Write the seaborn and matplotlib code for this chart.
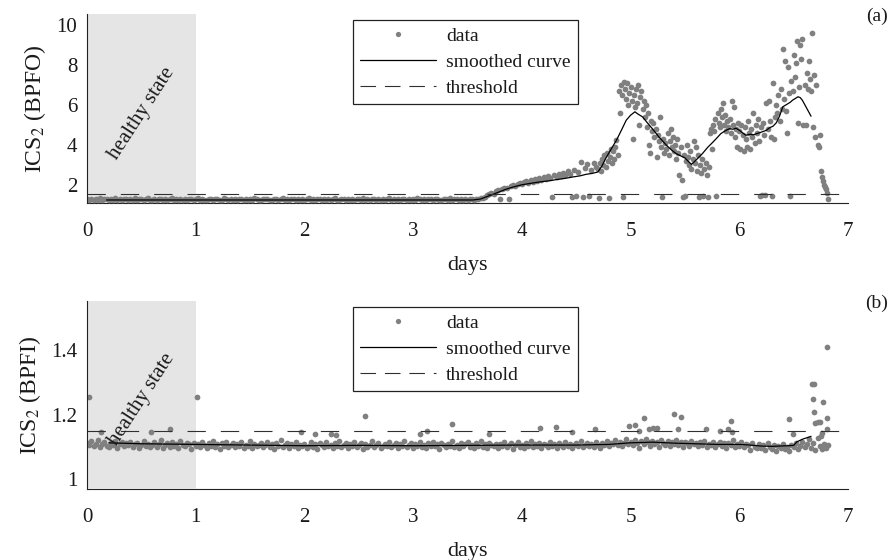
import numpy as np
import pandas as pd
import matplotlib
matplotlib.use("Agg")
import matplotlib.pyplot as plt
import seaborn as sns
from matplotlib.lines import Line2D

# ---------------------------------------------------------------- data
# Panel (a): ICS2 of the BPFO band
# 0.00 .. 3.58 days, sampled every 0.02 day
bpfo_flat = [
    1.31, 1.28, 1.34, 1.26, 1.33, 1.29, 1.36, 1.27, 1.32, 1.30,
    1.25, 1.33, 1.29, 1.35, 1.28, 1.31, 1.27, 1.34, 1.30, 1.26,
    1.32, 1.29, 1.35, 1.28, 1.31, 1.33, 1.27, 1.30, 1.36, 1.29,
    1.26, 1.32, 1.28, 1.34, 1.30, 1.27, 1.33, 1.29, 1.31, 1.35,
    1.28, 1.30, 1.26, 1.33, 1.29, 1.32, 1.27, 1.34, 1.31, 1.28,
    1.30, 1.35, 1.27, 1.32, 1.29, 1.26, 1.33, 1.30, 1.28, 1.34,
    1.31, 1.27, 1.29, 1.36, 1.30, 1.28, 1.32, 1.26, 1.33, 1.29,
    1.31, 1.34, 1.28, 1.30, 1.27, 1.33, 1.29, 1.35, 1.31, 1.28,
    1.26, 1.32, 1.30, 1.34, 1.29, 1.27, 1.31, 1.33, 1.28, 1.30,
    1.35, 1.29, 1.32, 1.27, 1.30, 1.34, 1.28, 1.31, 1.26, 1.33,
    1.29, 1.30, 1.36, 1.28, 1.32, 1.27, 1.31, 1.34, 1.29, 1.30,
    1.27, 1.33, 1.28, 1.31, 1.35, 1.29, 1.26, 1.32, 1.30, 1.28,
    1.34, 1.29, 1.31, 1.27, 1.33, 1.30, 1.28, 1.35, 1.29, 1.32,
    1.26, 1.30, 1.34, 1.28, 1.31, 1.29, 1.33, 1.27, 1.30, 1.36,
    1.29, 1.32, 1.28, 1.31, 1.27, 1.34, 1.30, 1.29, 1.33, 1.26,
    1.31, 1.28, 1.35, 1.30, 1.29, 1.32, 1.27, 1.33, 1.30, 1.28,
    1.31, 1.34, 1.29, 1.27, 1.32, 1.30, 1.28, 1.35, 1.29, 1.31,
    1.33, 1.28, 1.30, 1.26, 1.32, 1.29, 1.34, 1.31, 1.28, 1.30,
]
# 3.60 .. 4.68 days, every 0.02 day
bpfo_rise = [
    1.32, 1.35, 1.38, 1.42, 1.50, 1.55, 1.62, 1.58, 1.70, 1.75,
    1.30, 1.82, 1.88, 1.85, 1.30, 1.95, 2.02, 1.98, 2.08, 2.12,
    2.05, 2.15, 2.20, 2.12, 2.25, 2.18, 2.30, 2.22, 2.35, 2.28,
    2.40, 2.33, 2.45, 2.38, 1.40, 2.50, 2.42, 2.55, 2.48, 2.62,
    2.52, 2.70, 2.58, 1.40, 2.75, 1.45, 2.65, 3.15, 1.40, 2.85,
    3.05, 1.45, 2.75, 3.10, 2.90,
]
# 4.70 .. 6.82 days, every 0.01 day
bpfo_fault = [
    2.80, 1.35, 3.10, 2.70, 3.30, 3.00, 3.50, 2.90, 3.60, 3.20,
    1.35, 3.40, 3.80, 3.10, 3.70, 3.30, 3.90, 4.25, 3.50, 6.70,
    5.60, 7.00, 6.50, 1.40, 7.15, 6.80, 6.30, 7.10, 6.00, 6.60,
    6.90, 6.20, 4.30, 6.50, 5.90, 6.80, 6.10, 7.00, 5.00, 6.40,
    6.70, 5.80, 6.20, 5.40, 6.00, 4.90, 5.60, 4.00, 3.60, 5.20,
    4.70, 5.10, 4.40, 4.80, 3.40, 4.50, 4.20, 5.40, 3.90, 1.40,
    4.30, 3.60, 4.10, 3.80, 4.60, 3.50, 4.20, 4.80, 3.90, 4.40,
    3.70, 4.00, 3.30, 4.30, 3.60, 2.50, 3.90, 2.25, 1.40, 3.50,
    1.45, 3.20, 4.00, 3.40, 3.00, 3.70, 2.80, 3.30, 4.20, 3.10,
    3.90, 2.70, 3.50, 1.40, 3.00, 2.60, 3.30, 1.45, 2.80, 3.10,
    2.50, 1.40, 2.90, 4.60, 4.80, 3.80, 5.00, 4.70, 5.30, 1.45,
    5.60, 5.10, 4.90, 5.80, 5.40, 6.10, 5.00, 5.50, 4.70, 5.20,
    4.90, 5.30, 4.60, 6.20, 5.00, 5.90, 4.40, 4.80, 3.90, 5.10,
    4.70, 3.80, 5.00, 4.50, 3.70, 4.90, 4.30, 3.90, 5.20, 4.60,
    3.80, 4.80, 4.40, 5.60, 4.10, 5.00, 4.60, 5.30, 4.20, 1.45,
    4.90, 1.50, 5.10, 4.50, 1.50, 6.10, 4.80, 6.20, 5.20, 4.40,
    1.45, 7.10, 4.30, 5.40, 6.00, 5.60, 6.50, 5.20, 6.80, 5.80,
    8.80, 6.30, 8.20, 5.70, 4.60, 7.90, 6.60, 1.45, 7.20, 6.70,
    8.50, 7.40, 8.10, 9.20, 5.10, 6.90, 9.00, 8.30, 9.30, 5.00,
    7.00, 5.00, 7.60, 6.80, 8.20, 7.30, 6.70, 9.60, 4.90, 7.50,
    4.40, 7.00, 4.00, 3.90, 4.50, 2.70, 2.40, 2.20, 2.00, 1.90,
    1.80, 1.60, 1.30,
]
bpfo_smooth_days = [
    0.18, 3.55, 3.62, 3.70, 3.78, 3.85, 3.92, 4.00, 4.08, 4.16, 4.24, 4.31,
    4.40, 4.47, 4.54, 4.59, 4.65, 4.70, 4.74, 4.77, 4.82, 4.87, 4.92, 4.96,
    5.00, 5.04, 5.07, 5.11, 5.15, 5.20, 5.26, 5.33, 5.38, 5.42, 5.47, 5.50,
    5.53, 5.56, 5.60, 5.66, 5.71, 5.76, 5.80, 5.83, 5.87, 5.91, 5.94, 5.97,
    6.00, 6.03, 6.06, 6.10, 6.13, 6.16, 6.20, 6.25, 6.28, 6.31, 6.34, 6.37,
    6.40, 6.44, 6.47, 6.49, 6.52, 6.54, 6.56, 6.58, 6.62, 6.66,
]
bpfo_smooth = [
    1.27, 1.27, 1.32, 1.48, 1.65, 1.80, 1.92, 2.03, 2.10, 2.17, 2.22, 2.28,
    2.35, 2.42, 2.48, 2.55, 2.60, 2.67, 3.00, 3.33, 3.80, 4.25, 4.80, 5.25,
    5.50, 5.67, 5.55, 5.42, 5.15, 4.83, 4.42, 4.00, 3.75, 3.58, 3.45, 3.37,
    3.20, 3.05, 3.25, 3.58, 3.90, 4.17, 4.40, 4.58, 4.72, 4.83, 4.80, 4.85,
    4.75, 4.62, 4.50, 4.55, 4.52, 4.58, 4.65, 4.75, 4.88, 4.95, 5.12, 5.45,
    5.92, 6.05, 6.15, 6.25, 6.35, 6.42, 6.38, 6.25, 5.85, 5.45,
]
bpfo_threshold = 1.58

# Panel (b): ICS2 of the BPFI band, 0.00 .. 6.82 days, every 0.02 day
bpfi_band = [
    1.112, 1.106, 1.118, 1.103, 1.110, 1.121, 1.099, 1.108, 1.115, 1.104,
    1.101, 1.113, 1.107, 1.119, 1.098, 1.109, 1.116, 1.102, 1.111, 1.105,
    1.117, 1.100, 1.108, 1.112, 1.096, 1.106, 1.120, 1.103, 1.110, 1.099,
    1.107, 1.114, 1.101, 1.109, 1.123, 1.097, 1.105, 1.112, 1.100, 1.116,
    1.104, 1.110, 1.098, 1.118, 1.106, 1.102, 1.113, 1.108, 1.095, 1.111,
    1.103, 1.109, 1.100, 1.115, 1.106, 1.097, 1.112, 1.104, 1.120, 1.101,
    1.108, 1.095, 1.111, 1.103, 1.117, 1.099, 1.106, 1.113, 1.100, 1.109,
    1.102, 1.114, 1.097, 1.107, 1.104, 1.119, 1.098, 1.110, 1.103, 1.106,
    1.112, 1.099, 1.105, 1.116, 1.101, 1.108, 1.094, 1.111, 1.104, 1.121,
    1.100, 1.107, 1.113, 1.097, 1.109, 1.103, 1.115, 1.096, 1.106, 1.102,
    1.110, 1.098, 1.104, 1.117, 1.101, 1.108, 1.095, 1.112, 1.105, 1.099,
    1.114, 1.102, 1.107, 1.096, 1.111, 1.104, 1.119, 1.100, 1.106, 1.113,
    1.097, 1.109, 1.103, 1.115, 1.099, 1.106, 1.112, 1.094, 1.108, 1.101,
    1.105, 1.118, 1.100, 1.107, 1.113, 1.096, 1.104, 1.110, 1.102, 1.116,
    1.099, 1.106, 1.111, 1.097, 1.108, 1.103, 1.120, 1.101, 1.105, 1.112,
    1.096, 1.109, 1.104, 1.114, 1.100, 1.107, 1.098, 1.111, 1.103, 1.117,
    1.102, 1.108, 1.095, 1.113, 1.105, 1.099, 1.110, 1.104, 1.118, 1.101,
    1.107, 1.097, 1.112, 1.103, 1.109, 1.115, 1.100, 1.106, 1.096, 1.111,
    1.104, 1.119, 1.101, 1.108, 1.098, 1.113, 1.106, 1.102, 1.110, 1.097,
    1.109, 1.103, 1.116, 1.100, 1.107, 1.112, 1.095, 1.105, 1.114, 1.101,
    1.106, 1.098, 1.111, 1.104, 1.120, 1.099, 1.108, 1.102, 1.113, 1.096,
    1.110, 1.105, 1.101, 1.117, 1.103, 1.108, 1.097, 1.112, 1.106, 1.100,
    1.114, 1.102, 1.109, 1.096, 1.107, 1.113, 1.104, 1.118, 1.099, 1.106,
    1.111, 1.103, 1.108, 1.100, 1.115, 1.105, 1.097, 1.112, 1.107, 1.119,
    1.104, 1.113, 1.109, 1.121, 1.106, 1.116, 1.102, 1.111, 1.124, 1.108,
    1.117, 1.105, 1.122, 1.112, 1.098, 1.119, 1.109, 1.126, 1.114, 1.103,
    1.120, 1.110, 1.116, 1.101, 1.123, 1.113, 1.107, 1.118, 1.104, 1.115,
    1.109, 1.121, 1.106, 1.114, 1.100, 1.117, 1.111, 1.103, 1.119, 1.108,
    1.112, 1.102, 1.116, 1.107, 1.120, 1.099, 1.110, 1.105, 1.114, 1.101,
    1.108, 1.117, 1.103, 1.111, 1.097, 1.113, 1.106, 1.122, 1.100, 1.109,
    1.104, 1.115, 1.099, 1.110, 1.106, 1.092, 1.112, 1.101, 1.096, 1.108,
    1.098, 1.105, 1.091, 1.111, 1.100, 1.094, 1.107, 1.089, 1.103, 1.097,
    1.109, 1.093, 1.101, 1.088, 1.106, 1.099, 1.112, 1.095, 1.104, 1.117,
    1.100, 1.108, 1.124, 1.096, 1.113, 1.091, 1.129, 1.103, 1.094, 1.110,
    1.098, 1.105,
]
# readings that stand out above the band
bpfi_spike_days = [
    0.02, 0.13, 0.59, 0.76, 1.01, 1.97, 2.10, 2.24, 2.29, 2.56, 3.06, 3.13,
    3.36, 3.70, 4.17, 4.31, 4.46, 4.67, 4.99, 5.04, 5.08, 5.12, 5.17, 5.21,
    5.24, 5.40, 5.44, 5.46, 5.69, 5.82, 5.90, 5.92, 5.93, 6.46, 6.49, 6.67,
    6.69, 6.68, 6.69, 6.70, 6.72, 6.74, 6.77, 6.81, 6.81, 6.81, 6.76, 6.75,
]
bpfi_spike_vals = [
    1.255, 1.145, 1.145, 1.156, 1.255, 1.145, 1.141, 1.140, 1.138, 1.197, 1.140, 1.150,
    1.172, 1.140, 1.159, 1.162, 1.146, 1.156, 1.164, 1.167, 1.150, 1.190, 1.155, 1.158,
    1.160, 1.203, 1.156, 1.193, 1.155, 1.150, 1.155, 1.180, 1.145, 1.188, 1.140, 1.294,
    1.294, 1.249, 1.208, 1.175, 1.177, 1.176, 1.239, 1.410, 1.190, 1.155, 1.143, 1.135,
]
bpfi_smooth_days = [
    0.20, 0.50, 1.00, 1.50, 2.00, 2.50, 3.00, 3.50, 4.00, 4.50, 4.80, 5.00,
    5.20, 5.40, 5.60, 5.80, 6.00, 6.10, 6.20, 6.30, 6.45, 6.50, 6.53, 6.58, 6.66,
]
bpfi_smooth = [
    1.113, 1.110, 1.108, 1.106, 1.104, 1.105, 1.104, 1.105, 1.106, 1.106, 1.108, 1.113,
    1.115, 1.112, 1.110, 1.108, 1.108, 1.106, 1.103, 1.102, 1.104, 1.105, 1.116, 1.124, 1.133,
]
bpfi_threshold = 1.15

x_ticks = [0, 1, 2, 3, 4, 5, 6, 7]
bpfo_yticks = [2, 4, 6, 8, 10]
bpfi_yticks = [1, 1.2, 1.4]

# ---------------------------------------------------------------- tables
def sampled(start, step, values):
    days = start + step * np.arange(len(values))
    return pd.DataFrame({"day": np.round(days, 3), "value": values})

bpfo_df = pd.concat([
    sampled(0.00, 0.02, bpfo_flat),
    sampled(3.60, 0.02, bpfo_rise),
    sampled(4.70, 0.01, bpfo_fault),
], ignore_index=True)
bpfi_df = pd.concat([
    sampled(0.00, 0.02, bpfi_band),
    pd.DataFrame({"day": bpfi_spike_days, "value": bpfi_spike_vals}),
], ignore_index=True)

# ---------------------------------------------------------------- style
sns.set_theme(style="white")
plt.rcParams["font.family"] = ["Liberation Serif", "DejaVu Serif"]
plt.rcParams["mathtext.fontset"] = "stix"
plt.rcParams["axes.unicode_minus"] = False

TEXT = "#1a1a1a"
DOT = "#808080"
SHADE = "#e5e5e5"
DASH = (16.5, 13.5)

fig = plt.figure(figsize=(8.92, 5.6), dpi=100)
ax_a = fig.add_axes([87 / 892, 1 - 203 / 560, 761 / 892, 189 / 560])
ax_b = fig.add_axes([87 / 892, 1 - 489 / 560, 761 / 892, 188 / 560])


def draw_panel(ax, df, sm_days, sm_vals, thr, ylim, yticks, ylabel, text_y, tag):
    ax.set_axisbelow(True)
    ax.axvspan(0, 1, color=SHADE, lw=0, zorder=1)
    sns.scatterplot(data=df, x="day", y="value", ax=ax, color=DOT, s=17,
                    linewidth=0, legend=False, zorder=3)
    sns.lineplot(x=sm_days, y=sm_vals, ax=ax, color="black", lw=0.9,
                 zorder=4, estimator=None, sort=False)
    ax.axhline(thr, color="#303030", lw=0.8, dashes=DASH, zorder=4)

    ax.set_xlim(0, 7)
    ax.set_ylim(*ylim)
    ax.set_xticks(x_ticks)
    ax.set_yticks(yticks)
    ax.set_xticklabels([str(t) for t in x_ticks])
    ax.set_yticklabels([f"{t:g}" for t in yticks])
    ax.tick_params(axis="x", direction="in", length=7, width=0.8,
                   color="#222222", pad=13.5, labelsize=15, labelcolor=TEXT)
    ax.tick_params(axis="y", direction="in", length=0, pad=7,
                   labelsize=15, labelcolor=TEXT)
    for side in ("top", "right"):
        ax.spines[side].set_visible(False)
    for side in ("left", "bottom"):
        ax.spines[side].set_color("#222222")
        ax.spines[side].set_linewidth(0.8)
    ax.spines["bottom"].set_zorder(0.6)
    ax.spines["left"].set_zorder(5)

    ax.set_xlabel("days", fontsize=16, color=TEXT, labelpad=11)
    ax.set_ylabel(ylabel, fontsize=17, color=TEXT, labelpad=6)
    ax.grid(False)

    ax.text(0.5, text_y, "healthy state", rotation=57, ha="center",
            va="center", fontsize=15, color=TEXT, zorder=6)

    handles = [
        Line2D([], [], marker="o", ls="", color=DOT, markersize=3.8,
               markeredgewidth=0),
        Line2D([], [], color="black", lw=0.9),
        Line2D([], [], color="#303030", lw=0.8, dashes=(14, 8)),
    ]
    leg = ax.legend(handles, ["data", "smoothed curve", "threshold"],
                    loc="upper left", bbox_to_anchor=(266 / 761, 0.968),
                    borderaxespad=0, frameon=True, fancybox=False,
                    edgecolor="#222222", framealpha=1, fontsize=14,
                    handlelength=3.9, handletextpad=0.5, labelspacing=0.42,
                    borderpad=0.38, labelcolor=TEXT)
    leg.get_frame().set_linewidth(0.9)
    leg.set_zorder(7)

    fig.text(877 / 892, ax.get_position().y1 - 2 / 560, tag,
             ha="center", va="center", fontsize=14, color=TEXT)


draw_panel(ax_a, bpfo_df, bpfo_smooth_days, bpfo_smooth, bpfo_threshold,
           (1.12, 10.55), bpfo_yticks, r"ICS$_2$ (BPFO)", 5.6, "(a)")
draw_panel(ax_b, bpfi_df, bpfi_smooth_days, bpfi_smooth, bpfi_threshold,
           (0.97, 1.552), bpfi_yticks, r"ICS$_2$ (BPFI)", 1.246, "(b)")

fig.savefig("out.png", dpi=100)
